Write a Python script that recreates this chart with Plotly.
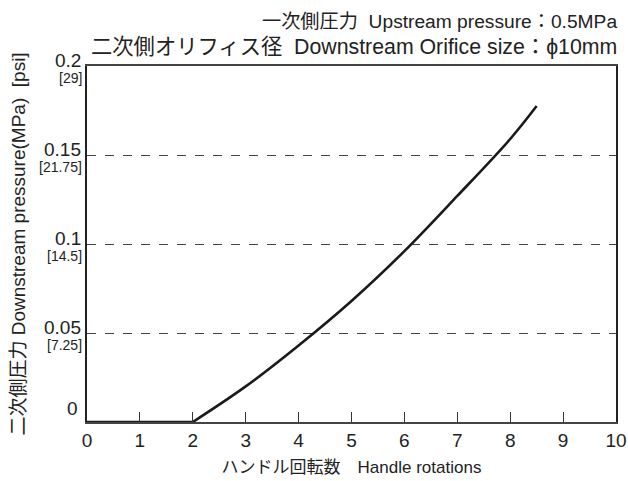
import plotly.graph_objects as go

# Data
flat_rotations = [0, 2.0]
flat_pressure = [0, 0]
rotations = [2.0, 3, 4, 5, 6, 7, 8, 8.5]
pressure = [0, 0.020, 0.043, 0.068, 0.096, 0.127, 0.159, 0.1775]

x_ticks = [0, 1, 2, 3, 4, 5, 6, 7, 8, 9, 10]
y_ticks = [0, 0.05, 0.1, 0.15, 0.2]
y_labels = ["0", "0.05", "0.1", "0.15", "0.2"]
psi_labels = ["", "[7.25]", "[14.5]", "[21.75]", "[29]"]

header1 = "一次側圧力  Upstream pressure：0.5MPa"
header2 = "二次側オリフィス径  Downstream Orifice size：ϕ10mm"
x_title = "ハンドル回転数　Handle rotations"
y_title = "二次側圧力 Downstream pressure(MPa)  [psi]"

FONT = "Liberation Sans, Noto Sans CJK JP, sans-serif"
TXT = "#222"

fig = go.Figure()
fig.add_trace(go.Scatter(
    x=flat_rotations, y=flat_pressure, mode="lines",
    line=dict(color="#1a1a1a", width=2.6),
    showlegend=False, hoverinfo="skip", cliponaxis=False,
))
fig.add_trace(go.Scatter(
    x=rotations, y=pressure, mode="lines",
    line=dict(color="#1a1a1a", width=2.6, shape="spline", smoothing=1.0),
    showlegend=False, hoverinfo="skip",
))

annotations = []
for v, lab, psi in zip(y_ticks, y_labels, psi_labels):
    if v == 0:
        annotations.append(dict(x=0, xref="paper", y=v, yref="y", text=lab,
                                showarrow=False, xanchor="right", yanchor="middle",
                                xshift=-7, yshift=14,
                                font=dict(size=19, color=TXT, family=FONT)))
        continue
    annotations.append(dict(x=0, xref="paper", y=v, yref="y", text=lab,
                            showarrow=False, xanchor="right", yanchor="middle",
                            xshift=-4, yshift=6,
                            font=dict(size=19, color=TXT, family=FONT)))
    annotations.append(dict(x=0, xref="paper", y=v, yref="y", text=psi,
                            showarrow=False, xanchor="right", yanchor="middle",
                            xshift=-3, yshift=-12,
                            font=dict(size=14, color=TXT, family=FONT)))

annotations.append(dict(x=1, xref="paper", y=1, yref="paper", text=header1,
                        showarrow=False, xanchor="right", yanchor="middle",
                        xshift=3, yshift=45,
                        font=dict(size=19.2, color=TXT, family=FONT)))
annotations.append(dict(x=1, xref="paper", y=1, yref="paper", text=header2,
                        showarrow=False, xanchor="right", yanchor="middle",
                        xshift=3, yshift=19,
                        font=dict(size=21.3, color=TXT, family=FONT)))

fig.update_layout(
    width=628, height=481,
    margin=dict(l=87, r=12, t=66, b=59),
    paper_bgcolor="white", plot_bgcolor="white",
    font=dict(family=FONT, color=TXT),
    annotations=annotations,
    xaxis=dict(
        range=[0, 10], tickvals=x_ticks, ticks="inside", ticklen=10,
        tickcolor="#333", tickwidth=1, showgrid=False, zeroline=False,
        showline=True, linecolor="#444", linewidth=1.5, mirror=True,
        automargin=False,
        tickfont=dict(size=19, color=TXT, family=FONT),
        title=dict(text=x_title, font=dict(size=17, color=TXT, family=FONT), standoff=12),
    ),
    yaxis=dict(
        range=[0, 0.2], tickvals=y_ticks, ticktext=[""] * len(y_ticks),
        ticks="", showgrid=True, gridcolor="#444", gridwidth=1, griddash="dash",
        zeroline=False, showline=True, linecolor="#222", linewidth=1.5, mirror=True,
        automargin=False,
        title=dict(text=y_title, font=dict(size=19, color=TXT, family=FONT), standoff=52),
    ),
)

fig.write_html("out.html", config={"displayModeBar": False},
               post_script="document.body.style.margin='0';document.body.style.padding='0';")
